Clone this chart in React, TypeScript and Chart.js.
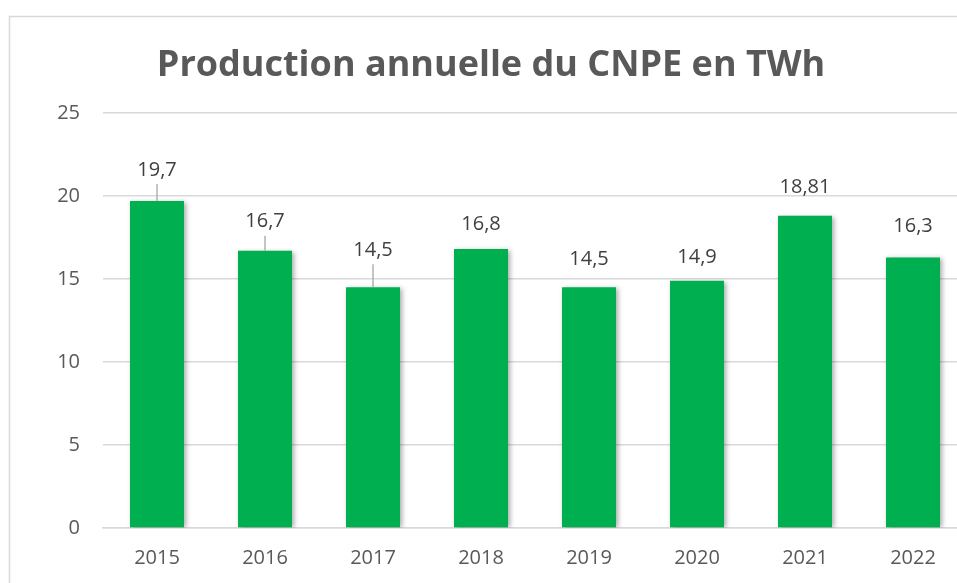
import React, { useEffect, useRef } from "react";
import { Chart, registerables } from "chart.js";

Chart.register(...registerables);

const TITLE = "Production annuelle du CNPE en TWh";
const YEARS = ["2015", "2016", "2017", "2018", "2019", "2020", "2021", "2022"];
const PRODUCTION = [19.7, 16.7, 14.5, 16.8, 14.5, 14.9, 18.81, 16.3];
const Y_TICKS = [0, 5, 10, 15, 20, 25];

const LABEL_LIFT = [31, 29, 37, 25, 28, 23, 28, 31];
const LEADER = [true, true, true, false, false, false, false, false];

const FONT = "'Open Sans', sans-serif";

export default function App() {
  const ref = useRef<HTMLCanvasElement>(null);

  useEffect(() => {
    if (!ref.current) return;
    const decor = {
      id: "decor",
      beforeDraw(chart: any) {
        const ctx = chart.ctx;
        ctx.save();
        ctx.fillStyle = "#ffffff";
        ctx.fillRect(0, 0, chart.width, chart.height);
        ctx.strokeStyle = "#d9d9d9";
        ctx.lineWidth = 1.5;
        ctx.strokeRect(9.5, 16.5, chart.width + 20, chart.height + 20);
        ctx.fillStyle = "#595959";
        ctx.font = `bold 36px ${FONT}`;
        ctx.textAlign = "center";
        ctx.textBaseline = "middle";
        ctx.fillText(TITLE, 491, 66);
        ctx.restore();
      },
      beforeDatasetsDraw(chart: any) {
        const ctx = chart.ctx;
        ctx.save();
        ctx.shadowColor = "rgba(0,0,0,0.35)";
        ctx.shadowBlur = 5;
        ctx.shadowOffsetX = 2;
        ctx.shadowOffsetY = 1;
      },
      afterDatasetsDraw(chart: any) {
        const ctx = chart.ctx;
        ctx.restore();
        ctx.save();
        const meta = chart.getDatasetMeta(0);
        ctx.font = `20px ${FONT}`;
        ctx.fillStyle = "#404040";
        ctx.textAlign = "center";
        ctx.textBaseline = "middle";
        meta.data.forEach((bar: any, i: number) => {
          const cy = bar.y - LABEL_LIFT[i];
          ctx.fillText(String(PRODUCTION[i]).replace(".", ","), bar.x, cy);
          if (LEADER[i]) {
            ctx.strokeStyle = "#a6a6a6";
            ctx.lineWidth = 1.3;
            ctx.beginPath();
            ctx.moveTo(bar.x, cy + 14);
            ctx.lineTo(bar.x, bar.y);
            ctx.stroke();
          }
        });
        ctx.restore();
      },
    };

    const chart = new Chart(ref.current, {
      type: "bar",
      data: {
        labels: YEARS,
        datasets: [
          {
            data: PRODUCTION,
            backgroundColor: "#00b050",
            borderWidth: 0,
            barPercentage: 0.5,
            categoryPercentage: 1,
          },
        ],
      },
      options: {
        responsive: false,
        animation: false,
        devicePixelRatio: 1,
        layout: { padding: { top: 113, right: 13, left: 0, bottom: 0 } },
        plugins: {
          legend: { display: false },
          title: { display: false },
          tooltip: { enabled: false },
        },
        scales: {
          x: {
            grid: { display: false, drawTicks: false },
            border: { color: "#d9d9d9", width: 1.5 },
            ticks: { color: "#595959", font: { family: FONT, size: 20 }, padding: 18 },
            afterFit(scale: any) {
              scale.height = 55;
            },
          },
          y: {
            min: 0,
            max: 25,
            afterBuildTicks(scale: any) {
              scale.ticks = Y_TICKS.map((v) => ({ value: v }));
            },
            grid: { color: "#d9d9d9", lineWidth: 1.5, drawTicks: false },
            border: { display: false },
            ticks: { color: "#595959", font: { family: FONT, size: 20 }, padding: 23 },
            afterFit(scale: any) {
              scale.width = 103;
            },
          },
        },
      },
      plugins: [decor],
    });
    return () => chart.destroy();
  }, []);

  return (
    <div style={{ position: "fixed", left: 0, top: 0, width: 957, height: 583, overflow: "hidden", background: "#fff" }}>
      <canvas ref={ref} width={980} height={583} style={{ display: "block" }} />
    </div>
  );
}
